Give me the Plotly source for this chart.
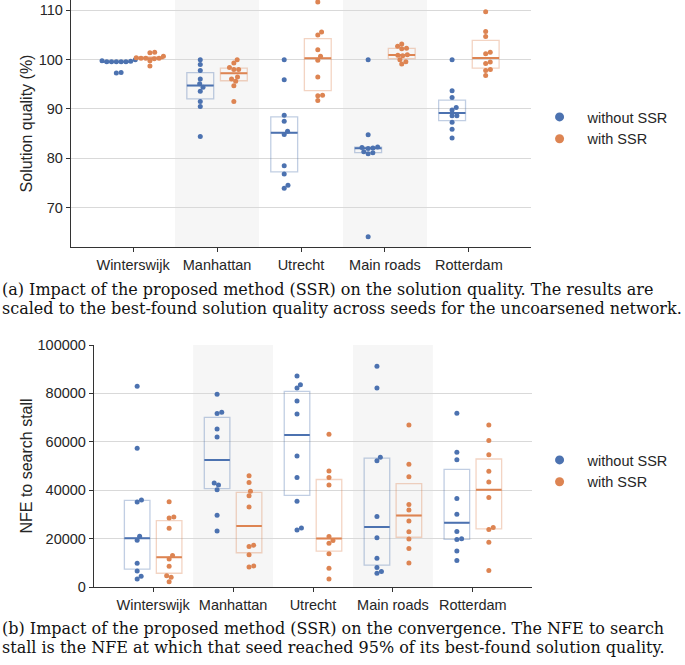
import math
import numpy as np
import plotly.graph_objects as go

networks = ["Winterswijk", "Manhattan", "Utrecht", "Main roads", "Rotterdam"]
series = ["without SSR", "with SSR"]
colors = ["#4c72b0", "#dd8452"]
light = ["rgba(76,114,176,0.35)", "rgba(221,132,82,0.35)"]

# solution quality (%), 10 seeds per network
quality_without = [
    [99.8, 99.7, 99.6, 99.6, 99.6, 99.6, 99.6, 100.0, 97.4, 97.3],
    [100.0, 99.0, 97.8, 96.1, 95.1, 94.4, 93.6, 91.5, 90.5, 84.4],
    [100.0, 95.9, 88.7, 87.5, 85.5, 84.8, 78.5, 76.8, 74.5, 73.9],
    [100.0, 84.75, 82.3, 82.2, 82.1, 82.0, 81.3, 81.1, 80.9, 64.1],
    [100.0, 93.7, 92.3, 90.3, 89.8, 88.6, 88.6, 87.3, 85.9, 84.1],
]
quality_with = [
    [101.5, 101.4, 100.7, 100.4, 100.3, 100.3, 100.3, 100.2, 99.8, 98.7],
    [100.0, 99.3, 98.4, 98.0, 98.0, 96.5, 96.1, 95.6, 94.7, 91.5],
    [111.7, 105.6, 105.0, 102.0, 100.7, 99.9, 96.5, 92.8, 92.7, 91.7],
    [103.2, 102.7, 102.3, 102.2, 101.0, 100.9, 100.8, 100.0, 99.6, 99.1],
    [109.7, 105.7, 104.7, 101.5, 101.2, 99.5, 99.2, 98.0, 97.8, 96.8],
]

# NFE to search stall
nfe_without = [
    [83000, 57300, 36000, 35100, 21000, 19300, 9800, 6600, 4400, 3300],
    [79700, 72200, 71700, 65300, 62000, 43000, 42100, 40200, 29700, 23100],
    [87200, 83600, 82200, 76900, 71500, 54100, 45200, 35400, 24400, 23600],
    [91200, 82200, 53600, 52200, 29100, 20400, 11900, 8100, 6400, 5700],
    [71800, 55700, 52600, 36600, 30100, 22900, 19900, 19600, 14900, 11000],
]
nfe_with = [
    [35200, 28900, 28500, 24300, 13000, 11600, 8600, 4700, 4000, 2200],
    [46000, 43200, 39600, 37700, 33100, 17300, 16700, 13300, 8700, 8300],
    [63100, 47900, 45200, 42100, 20900, 19200, 18100, 13700, 7700, 3300],
    [66900, 50700, 45600, 34100, 31800, 27300, 22800, 19800, 15900, 9900],
    [66900, 60500, 54600, 47800, 43400, 37000, 24600, 23800, 18500, 6800],
]

captions = [
    ["(a) Impact of the proposed method (SSR) on the solution quality. The results are",
     "scaled to the best-found solution quality across seeds for the uncoarsened network."],
    ["(b) Impact of the proposed method (SSR) on the convergence. The NFE to search",
     "stall is the NFE at which that seed reached 95% of its best-found solution quality."],
]

W, H = 685, 665
xr = [-0.74, 4.74]
dodge = 0.2
box_w = 0.32
panels = [
    dict(xa="x", ya="y", dx=[71 / W, 531 / W], dy=[1 - 247 / H, 1.0], yr=[62.0, 112.1],
         data=[quality_without, quality_with], title="Solution quality (%)", legend="legend",
         standoff=2),
    dict(xa="x2", ya="y2", dx=[94 / W, 532 / W], dy=[1 - 587 / H, 1 - 345 / H], yr=[0, 100000],
         data=[nfe_without, nfe_with], title="NFE to search stall", legend="legend2",
         standoff=0),
]


def swarm(vals, center, xscale, yscale, d=4.8):
    # simple beeswarm: place each point as close to the centre as it fits
    order = np.argsort(vals)
    placed = []
    xs = [0.0] * len(vals)
    for i in order:
        y = vals[i] * yscale
        cands = [0.0]
        for px, py in placed:
            dy = y - py
            if abs(dy) < d:
                dx = math.sqrt(d * d - dy * dy)
                cands += [px + dx, px - dx]
        cands.sort(key=abs)
        c = cands[0]
        for c in cands:
            if all((c - px) ** 2 + (y - py) ** 2 >= d * d - 1e-6 for px, py in placed):
                break
        placed.append((c, y))
        xs[i] = center + c / xscale
    return xs


fig = go.Figure()
for p in panels:
    xscale = (p["dx"][1] - p["dx"][0]) * W / (xr[1] - xr[0])
    yscale = (p["dy"][1] - p["dy"][0]) * H / (p["yr"][1] - p["yr"][0])
    for s in range(2):
        groups = p["data"][s]
        pos = [i + (2 * s - 1) * dodge for i in range(len(networks))]
        q1 = [float(np.percentile(g, 25)) for g in groups]
        med = [float(np.percentile(g, 50)) for g in groups]
        q3 = [float(np.percentile(g, 75)) for g in groups]
        fig.add_trace(go.Box(x=pos, q1=q1, median=med, q3=q3, lowerfence=q1, upperfence=q3,
                             width=box_w, whiskerwidth=0, fillcolor="rgba(0,0,0,0)",
                             line=dict(color=light[s], width=1.3), showlegend=False,
                             xaxis=p["xa"], yaxis=p["ya"]))
        fig.add_trace(go.Box(x=pos, q1=med, median=med, q3=med, lowerfence=med, upperfence=med,
                             width=box_w, whiskerwidth=0, fillcolor="rgba(0,0,0,0)",
                             line=dict(color=colors[s], width=2), showlegend=False,
                             xaxis=p["xa"], yaxis=p["ya"]))
        px, py = [], []
        for i, g in enumerate(groups):
            px += swarm(g, pos[i], xscale, yscale)
            py += g
        fig.add_trace(go.Scatter(x=px, y=py, mode="markers", showlegend=False, cliponaxis=False,
                                 marker=dict(color=colors[s], size=5),
                                 xaxis=p["xa"], yaxis=p["ya"]))
        fig.add_trace(go.Scatter(x=[None], y=[None], mode="markers", name=series[s],
                                 marker=dict(color=colors[s], size=9), legend=p["legend"],
                                 xaxis=p["xa"], yaxis=p["ya"]))
    for i in [1, 3]:
        fig.add_shape(type="rect", xref=p["xa"], yref=p["ya"] + " domain", x0=i - 0.5, x1=i + 0.5,
                      y0=0, y1=1, fillcolor="#f6f6f6", line_width=0, layer="below")

axis_style = dict(showline=True, linecolor="#333333", linewidth=1.3, ticks="outside", ticklen=4,
                  tickcolor="#333333", tickfont=dict(size=14.5, color="#262626"), zeroline=False,
                  automargin=False)
xa = dict(axis_style, range=xr, tickvals=list(range(len(networks))), ticktext=networks, showgrid=False)
legend_style = dict(x=0.776, xanchor="left", yanchor="top", font=dict(size=14.5),
                    bgcolor="rgba(0,0,0,0)", itemwidth=46)
fig.update_layout(
    width=W, height=H,
    margin=dict(l=0, r=0, t=0, b=0),
    plot_bgcolor="white", paper_bgcolor="white",
    font=dict(family="Liberation Sans, Arial, sans-serif", color="#262626"),
    boxmode="overlay",
    xaxis=dict(xa, domain=panels[0]["dx"], anchor="y"),
    yaxis=dict(axis_style, domain=panels[0]["dy"], range=panels[0]["yr"], anchor="x",
               showgrid=True, gridcolor="#d9d9d9", dtick=10,
               title=dict(text=panels[0]["title"], font=dict(size=16), standoff=panels[0]["standoff"])),
    xaxis2=dict(xa, domain=panels[1]["dx"], anchor="y2"),
    yaxis2=dict(axis_style, domain=panels[1]["dy"], range=panels[1]["yr"], anchor="x2",
                showgrid=True, gridcolor="#d9d9d9", dtick=20000, tickformat="d",
                title=dict(text=panels[1]["title"], font=dict(size=16), standoff=panels[1]["standoff"])),
    legend=dict(legend_style, y=1 - 101 / H),
    legend2=dict(legend_style, y=1 - 444 / H),
)

cap_y = [[289, 308], [628, 647]]
for k in range(2):
    for j in range(2):
        fig.add_annotation(text=captions[k][j], xref="paper", yref="paper", x=0, y=1 - cap_y[k][j] / H,
                           xanchor="left", yanchor="middle", showarrow=False,
                           font=dict(family="DejaVu Serif, serif", size=16, color="#111111"))

fig.write_html("out.html", config={"displayModeBar": False},
               post_script="document.body.style.margin = '0';")
